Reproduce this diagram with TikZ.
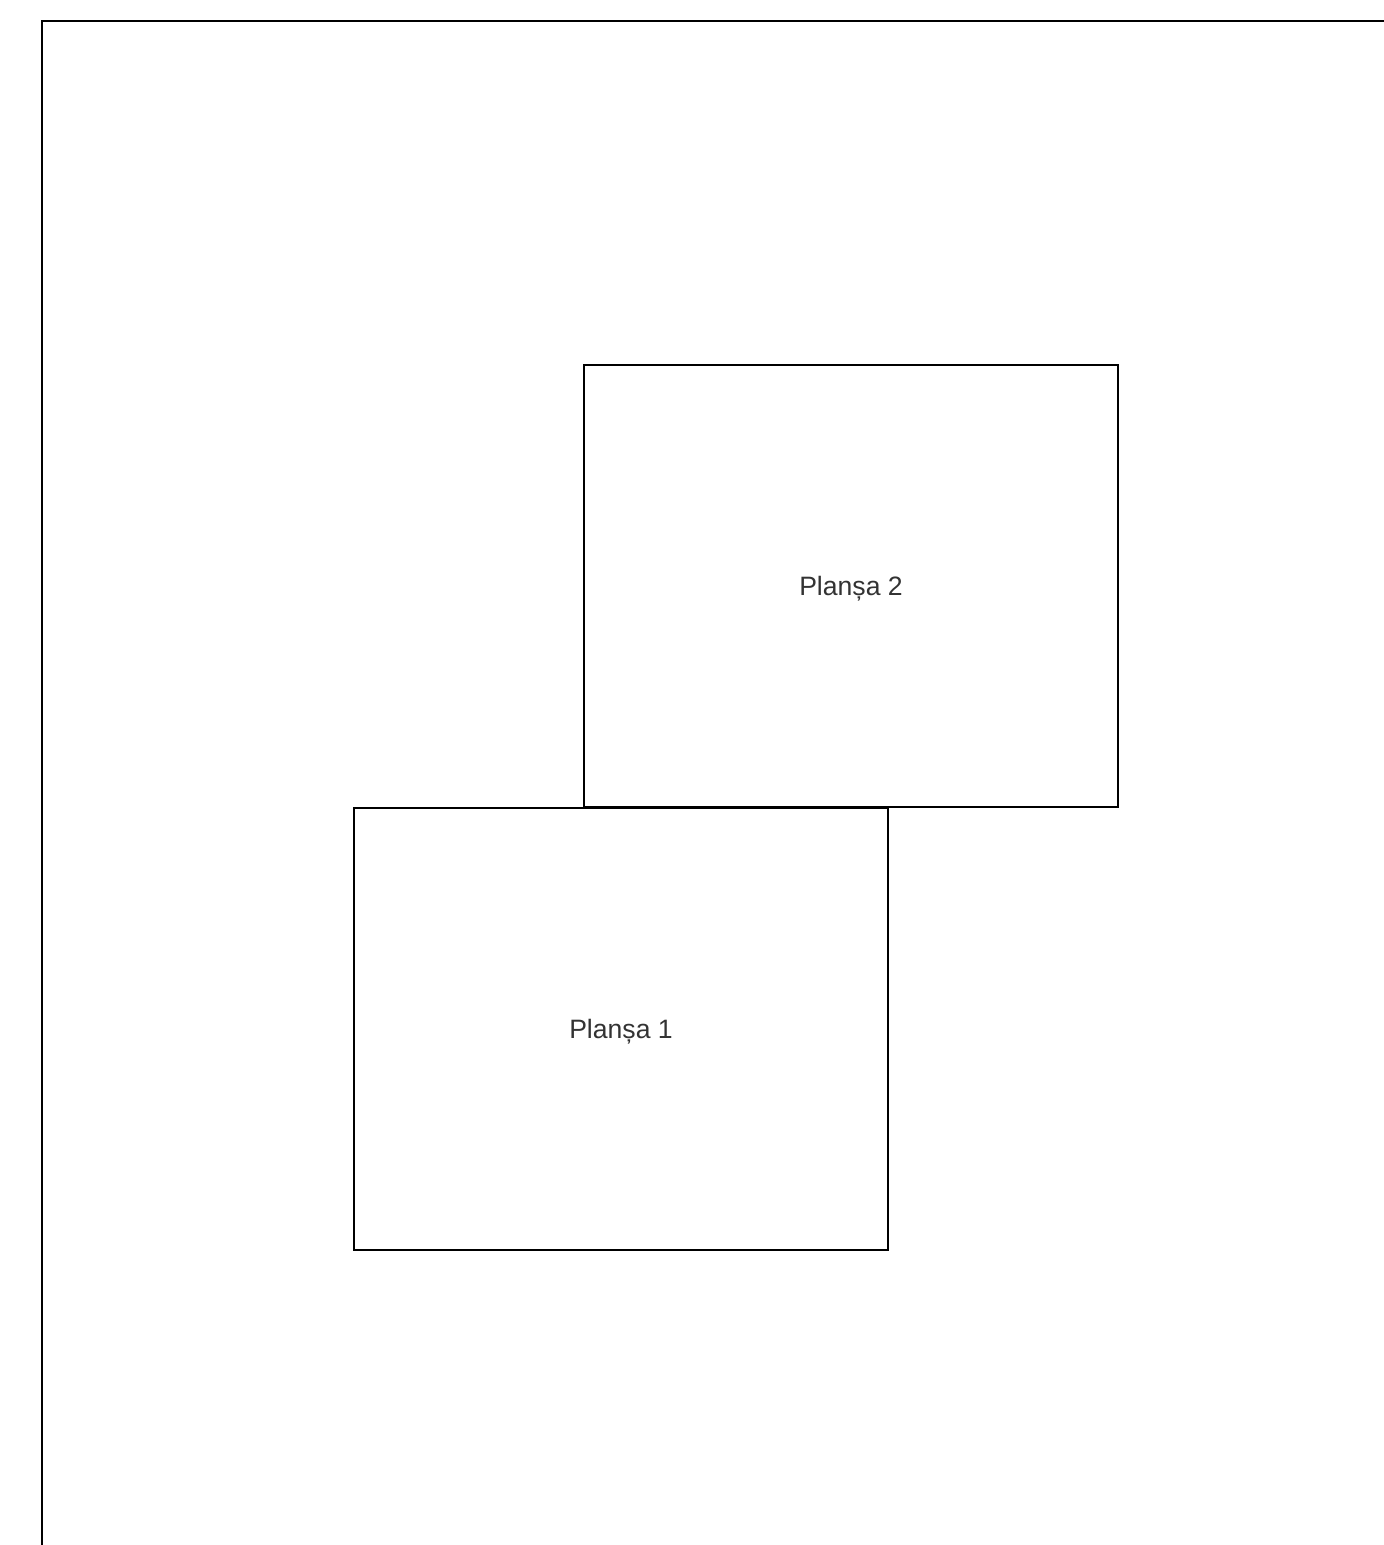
\documentclass[tikz,border=0pt]{standalone}
\usepackage{fontspec}
\setmainfont{Liberation Sans}
\usepackage{tikz}
\usetikzlibrary{positioning}
\definecolor{labelgray}{RGB}{51, 51, 51}

\begin{document}
\begin{tikzpicture}[x=0.5pt, y=-0.5pt,
    sheet/.style={draw, line width=0.6pt, minimum width=267pt, minimum height=221pt,
      inner sep=0pt, text depth=0pt, font=\fontsize{13.3pt}{15pt}\selectfont, text=labelgray}]
  \useasboundingbox (0,0) rectangle (1384,1545);
  % page border (left and top edge)
  \draw[line width=1pt] (42,1545) -- (42,21) -- (1384,21);

  % the two sheets
  \node[sheet] (plansa2) at (851,586) {Planșa 2};
  \node[sheet] (plansa1) at (621,1029) {Planșa 1};
\end{tikzpicture}
\end{document}
